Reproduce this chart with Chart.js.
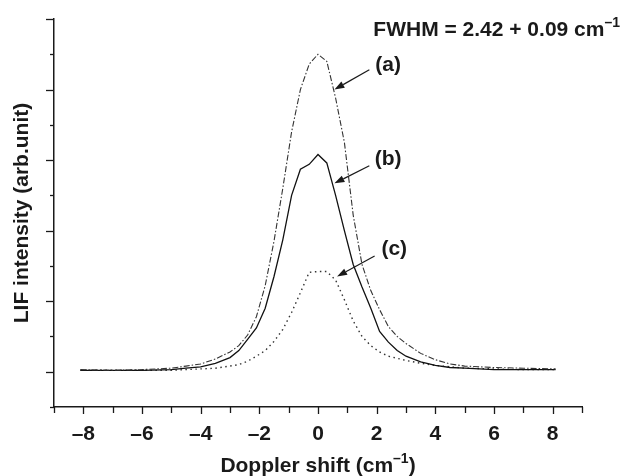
<!DOCTYPE html>
<html><head><meta charset="utf-8">
<script src="https://cdn.jsdelivr.net/npm/chart.js@4.4.0/dist/chart.umd.min.js"></script>
<style>html,body{margin:0;padding:0;background:#fff}#wrap{width:622px;height:476px}</style>
</head><body><div id="wrap"><canvas id="c" width="622" height="476"></canvas></div>
<script>
// Doppler shift (cm^-1) sample positions
const shift  = [-8.1,-7,-6,-5,-4.5,-4,-3.5,-3,-2.7,-2.4,-2.1,-1.8,-1.5,-1.2,-0.9,-0.6,-0.3,0,0.3,0.6,0.9,1.2,1.5,1.8,2.1,2.4,2.7,3,3.5,4,4.5,5,6,7,8.1];
// LIF intensity (arb. unit)
const curveA = [0.03,0.02,0.03,0.05,0.08,0.11,0.18,0.28,0.37,0.52,0.78,1.22,1.85,2.6,3.4,4.0,4.36,4.50,4.40,3.88,3.25,2.22,1.52,1.15,0.88,0.64,0.5,0.4,0.26,0.17,0.11,0.08,0.06,0.05,0.04];
const curveB = [0.02,0.02,0.02,0.03,0.05,0.07,0.12,0.2,0.3,0.46,0.62,0.9,1.35,1.87,2.5,2.87,2.94,3.08,2.96,2.5,2.0,1.52,1.2,0.9,0.57,0.42,0.3,0.22,0.14,0.09,0.06,0.05,0.03,0.03,0.03];
const curveC = [0.02,0.02,0.02,0.02,0.03,0.04,0.05,0.08,0.1,0.15,0.22,0.3,0.43,0.6,0.84,1.12,1.41,1.42,1.42,1.3,1.02,0.72,0.5,0.37,0.28,0.22,0.19,0.16,0.12,0.09,0.07,0.05,0.04,0.03,0.03];
const seriesNames = ['(a)','(b)','(c)'];
// tick values
const xTickValues = [-9,-8,-7,-6,-5,-4,-3,-2,-1,0,1,2,3,4,5,6,7,8,9];
const xTickLabels = ['','\u20138','','\u20136','','\u20134','','\u20132','','0','','2','','4','','6','','8',''];
const yTickValues = [-0.5,0,0.5,1,1.5,2,2.5,3,3.5,4,4.5,5];
// annotation labels and arrows (data coordinates)
const labelAt = [[2.39,4.35],[2.39,3.01],[2.6,1.73]];
const arrowFrom = [[1.75,4.28],[1.75,2.92],[1.93,1.64]];
const arrowTo = [[0.56,4.0],[0.56,2.67],[0.65,1.35]];

const FAM = '"Liberation Sans Narrow","Liberation Sans",Arial,sans-serif';
const INK = '#1a1a1a';

function pts(ys){ return shift.map((x,i)=>({x:x,y:ys[i]})); }

const extras = {
  id:'extras',
  afterDraw(chart){
    const ctx = chart.ctx, xs = chart.scales.x, ys = chart.scales.y;
    ctx.save();
    ctx.strokeStyle = INK; ctx.lineWidth = 1.3;
    // x tick marks
    xTickValues.forEach(v=>{
      const px = Math.round(xs.getPixelForValue(v))+0.5;
      const len = (v%2===0)?7:6;
      ctx.beginPath(); ctx.moveTo(px, xs.top); ctx.lineTo(px, xs.top+len); ctx.stroke();
    });
    // y tick marks
    yTickValues.forEach(v=>{
      const py = Math.round(ys.getPixelForValue(v))+0.5;
      const len = Number.isInteger(v)?8:4;
      ctx.beginPath(); ctx.moveTo(ys.right, py); ctx.lineTo(ys.right-len, py); ctx.stroke();
    });
    // annotations
    ctx.fillStyle = INK;
    ctx.font = 'bold 21px '+FAM;
    ctx.textAlign='center'; ctx.textBaseline='middle';
    seriesNames.forEach((s,i)=>{
      ctx.fillText(s, xs.getPixelForValue(labelAt[i][0]), ys.getPixelForValue(labelAt[i][1]));
      const x0 = xs.getPixelForValue(arrowFrom[i][0]), y0 = ys.getPixelForValue(arrowFrom[i][1]);
      const x1 = xs.getPixelForValue(arrowTo[i][0]), y1 = ys.getPixelForValue(arrowTo[i][1]);
      const ang = Math.atan2(y1-y0, x1-x0), hl = 10, hw = 3.5;
      const bx = x1 - hl*Math.cos(ang), by = y1 - hl*Math.sin(ang);
      ctx.lineWidth = 1.2;
      ctx.beginPath(); ctx.moveTo(x0,y0); ctx.lineTo(bx,by); ctx.stroke();
      ctx.beginPath(); ctx.moveTo(x1,y1);
      ctx.lineTo(bx + hw*Math.sin(ang), by - hw*Math.cos(ang));
      ctx.lineTo(bx - hw*Math.sin(ang), by + hw*Math.cos(ang));
      ctx.closePath(); ctx.fill();
    });
    // text with superscripts
    function supText(parts, x, y, align){
      let w = 0;
      parts.forEach(p=>{ ctx.font = 'bold '+p.size+'px '+FAM; w += ctx.measureText(p.t).width; });
      let cx = align==='center' ? x - w/2 : (align==='right' ? x - w : x);
      ctx.textAlign='left'; ctx.textBaseline='alphabetic';
      parts.forEach(p=>{ ctx.font = 'bold '+p.size+'px '+FAM; ctx.fillText(p.t, cx, y + (p.dy||0)); cx += ctx.measureText(p.t).width; });
    }
    supText([{t:'FWHM = 2.42 + 0.09 cm',size:21},{t:'\u20131',size:14,dy:-9}], 620, 36, 'right');
    supText([{t:'Doppler shift (cm',size:21},{t:'\u20131',size:14,dy:-9},{t:')',size:21}], xs.getPixelForValue(0), 472, 'center');
    ctx.restore();
  }
};

new Chart(document.getElementById('c'), {
  type:'scatter',
  data:{ datasets:[
    {label:seriesNames[0], data:pts(curveA), showLine:true, borderColor:'#333', borderWidth:1.1, borderDash:[6,2,1.5,2], pointRadius:0, tension:0},
    {label:seriesNames[1], data:pts(curveB), showLine:true, borderColor:'#111', borderWidth:1.3, pointRadius:0, tension:0},
    {label:seriesNames[2], data:pts(curveC), showLine:true, borderColor:'#333', borderWidth:1.4, borderDash:[1.5,3.5], pointRadius:0, tension:0}
  ]},
  options:{
    responsive:false, animation:false, devicePixelRatio:1,
    layout:{padding:{top:19,right:40,left:0,bottom:0}},
    plugins:{legend:{display:false}, tooltip:{enabled:false}},
    scales:{
      x:{type:'linear', position:'bottom', min:-9, max:9,
        afterBuildTicks:s=>{ s.ticks = xTickValues.map(v=>({value:v})); },
        afterFit:s=>{ s.height = 69; },
        ticks:{autoSkip:false, maxRotation:0, padding:15, color:INK, font:{family:FAM, size:21, weight:'bold'},
          callback:(v)=>{ const i = xTickValues.indexOf(v); return i>=0 ? xTickLabels[i] : ''; }},
        grid:{drawOnChartArea:false, drawTicks:false},
        border:{display:true, color:INK, width:1.5}
      },
      y:{type:'linear', position:'left', min:-0.5, max:5,
        afterBuildTicks:s=>{ s.ticks = yTickValues.map(v=>({value:v})); },
        afterFit:s=>{ s.width = 54; },
        ticks:{callback:()=>''},
        grid:{drawOnChartArea:false, drawTicks:false},
        border:{display:true, color:INK, width:1.5},
        title:{display:true, text:'LIF intensity (arb.unit)', color:INK, font:{family:FAM, size:21, weight:'bold'}, padding:{top:10,bottom:0}}
      }
    }
  },
  plugins:[extras]
});
</script></body></html>
